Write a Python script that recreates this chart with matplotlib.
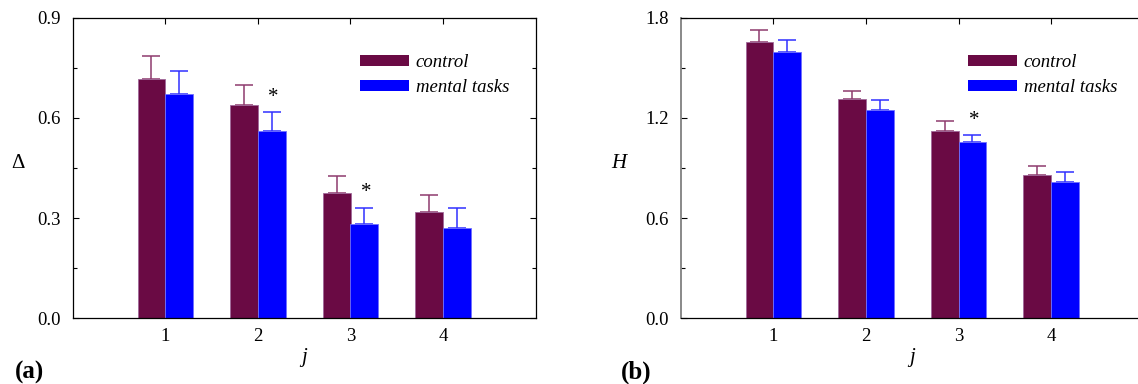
import matplotlib
matplotlib.use('Agg')
import matplotlib.pyplot as plt
from matplotlib.ticker import MultipleLocator

plt.rcParams['font.family'] = ['Liberation Serif', 'DejaVu Serif']
plt.rcParams['font.size'] = 13.5

# data
j = [1, 2, 3, 4]
delta_control = [0.717, 0.637, 0.374, 0.317]
delta_control_err = [0.069, 0.061, 0.051, 0.051]
delta_mental = [0.671, 0.560, 0.283, 0.269]
delta_mental_err = [0.069, 0.057, 0.048, 0.060]
delta_signif = [2, 3]          # j values marked with *

h_control = [1.651, 1.310, 1.121, 0.857]
h_control_err = [0.073, 0.052, 0.058, 0.054]
h_mental = [1.592, 1.246, 1.052, 0.818]
h_mental_err = [0.073, 0.058, 0.042, 0.055]
h_signif = [3]

c_control = '#6A0A44'
c_mental = '#0000FF'
width = 0.3

W, H = 1138, 384
fig = plt.figure(figsize=(W / 100, H / 100), dpi=100)


def panel(left, ylabel, ymax, control, control_err, mental, mental_err, signif, tag, tag_x, yl_italic):
    ax = fig.add_axes([left / W, 1 - 318.3 / H, 463 / W, 300.8 / H])
    ax.set_axisbelow(True)
    xc = [x - width / 2 for x in j]
    xm = [x + width / 2 for x in j]
    ax.bar(xc, control, width, color=c_control, edgecolor='#A0689A', linewidth=0.6, zorder=2)
    ax.bar(xm, mental, width, color=c_mental, edgecolor='#7070FF', linewidth=0.6, zorder=2)
    # upper error bars only
    ax.errorbar(xc, control, yerr=[[0] * 4, control_err], fmt='none', ecolor='#8E3A6E',
                elinewidth=1.1, capsize=6.5, capthick=1.1, zorder=1.5)
    ax.errorbar(xm, mental, yerr=[[0] * 4, mental_err], fmt='none', ecolor='#3030FF',
                elinewidth=1.1, capsize=6.5, capthick=1.1, zorder=1.5)
    off = ymax * 0.05
    for s in signif:
        i = j.index(s)
        ax.text(xm[i] + 0.02, mental[i] + mental_err[i] + off, '*', ha='center', va='center',
                fontsize=15)

    ax.set_xlim(0, 5)
    ax.set_ylim(0, ymax)
    ax.set_xticks(j)
    ax.yaxis.set_major_locator(MultipleLocator(ymax / 3))
    ax.yaxis.set_minor_locator(MultipleLocator(ymax / 6))
    ax.yaxis.set_major_formatter(plt.FuncFormatter(lambda v, p: f'{v:.1f}'))
    ax.tick_params(which='both', direction='in', top=True, right=True, labelsize=13.5)
    ax.tick_params(which='major', length=4, width=0.8)
    ax.tick_params(which='minor', length=3, width=0.8)
    ax.tick_params(axis='y', pad=8.5)
    ax.tick_params(axis='x', pad=7)
    for sp in ax.spines.values():
        sp.set_linewidth(0.9)

    # legend drawn as a proxy legend
    ax.bar([0], [0], color=c_control, label='control')
    ax.bar([0], [0], color=c_mental, label='mental tasks')
    ax.legend(loc='upper left', bbox_to_anchor=(0.585, 0.935), frameon=False,
              prop={'style': 'italic', 'size': 13.5}, handlelength=2.6,
              handleheight=0.55, handletextpad=0.35, labelspacing=0.45)

    ax.set_xlabel('j', style='italic', fontsize=15, labelpad=2)
    ax.set_ylabel(ylabel, rotation=0, fontsize=15, va='center', ha='center',
                  style='italic' if yl_italic else 'normal')
    ax.yaxis.set_label_coords(-0.118 if not yl_italic else -0.133, 0.515)
    fig.text(tag_x / W, 1 - 372 / H, tag, fontsize=18, fontweight='bold', va='center')
    return ax


ax1 = panel(72.7, 'Δ', 0.9, delta_control, delta_control_err, delta_mental, delta_mental_err,
            delta_signif, '(a)', 15, False)
ax2 = panel(680.7, 'H', 1.8, h_control, h_control_err, h_mental, h_mental_err,
            h_signif, '(b)', 621, True)
ax2.spines['left'].set_color('#808080')
ax2.spines['left'].set_linewidth(1.3)

fig.savefig('out.png', dpi=100)
